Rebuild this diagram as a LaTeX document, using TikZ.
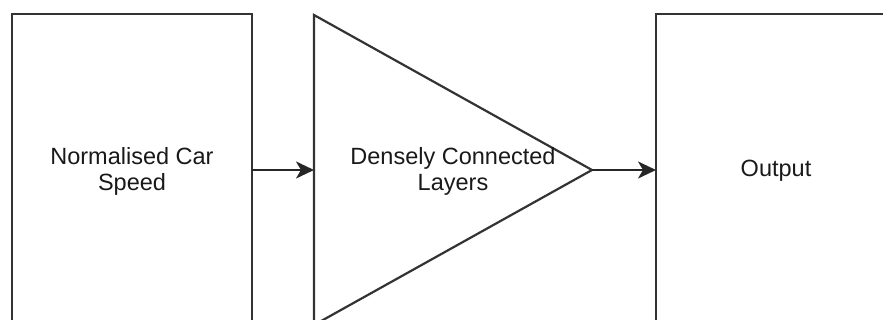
\documentclass[tikz,border=0pt]{standalone}
\usepackage{fontspec}
\setmainfont{Liberation Sans}
\usetikzlibrary{shapes.geometric,arrows.meta}

\begin{document}
\begin{tikzpicture}[x=1pt,y=-1pt,
    txt/.style={align=center,font=\fontsize{23.5}{26}\selectfont,text=black!90},
    block/.style={txt,draw=black!80,line width=2.2pt,minimum width=240pt,minimum height=314pt,inner sep=0pt,outer sep=0pt},
    layer/.style={draw=black!80,line width=2.2pt,isosceles triangle,isosceles triangle stretches,shape border rotate=0,minimum width=310pt,minimum height=278pt,inner sep=0pt,outer sep=0pt},
    link/.style={line width=2.4pt,draw=black!85,-{Stealth[length=18pt,width=17pt,inset=5pt]}}]
    \useasboundingbox (0,0) rectangle (883,320);
    \clip (0,0) rectangle (883,320);
    % input
    \node[block] (speed) at (132,171) {Normalised Car\\Speed};
    % dense part
    \node[layer,anchor=apex] (dense) at (592,170) {};
    \node[txt] (densetext) at (453,171) {Densely Connected\\Layers};
    % output
    \node[block] (out) at (776,171) {Output};
    \draw[link] (speed.east |- dense.apex) -- (dense.lower side);
    \draw[link] (dense.apex) -- (out.west |- dense.apex);
\end{tikzpicture}
\end{document}
